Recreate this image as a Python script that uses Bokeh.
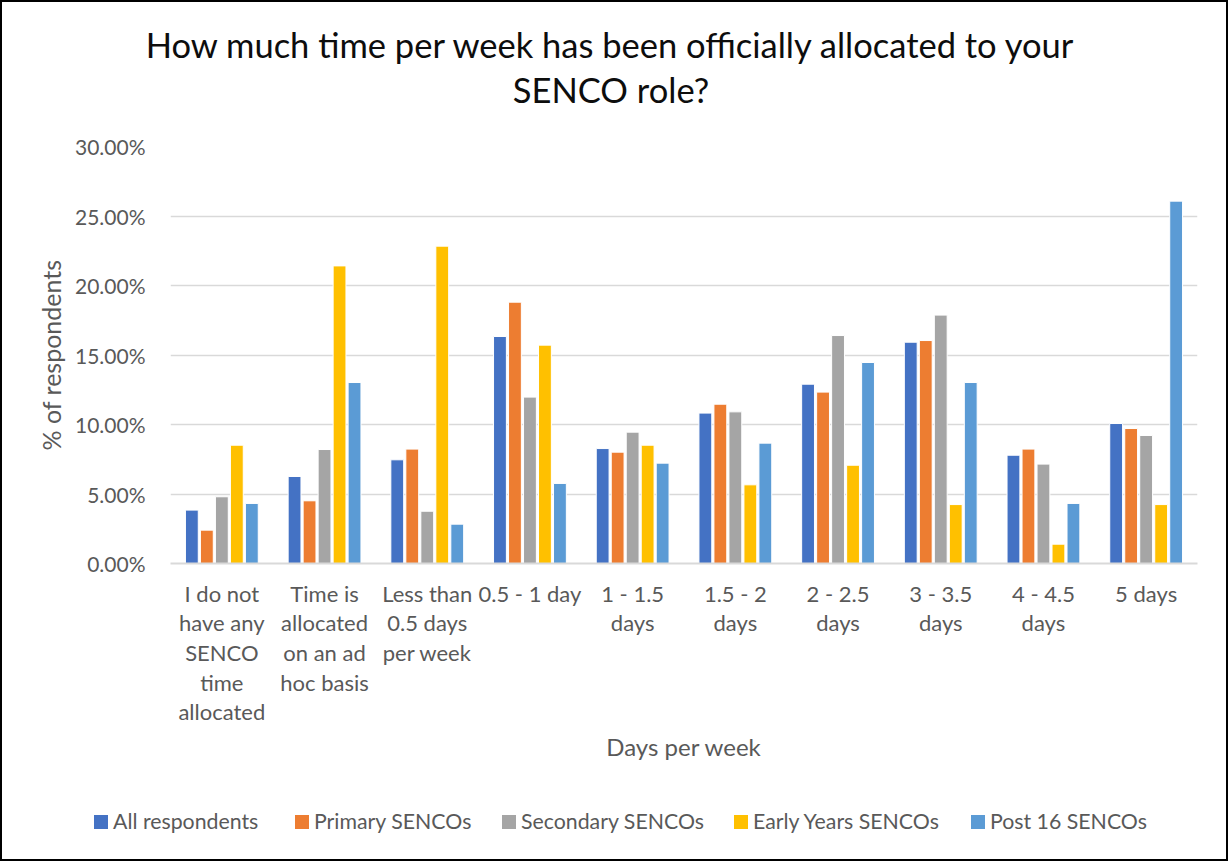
from bokeh.plotting import figure
from bokeh.layouts import column
from bokeh.models import (ColumnDataSource, FactorRange, Range1d, FixedTicker,
                          PrintfTickFormatter, Div)
from bokeh.transform import dodge
from bokeh.embed import file_html
from bokeh.resources import INLINE

# Survey categories (x axis) and the share of respondents per group, in percent
categories = [
    "I do not\nhave any\nSENCO\ntime\nallocated",
    "Time is\nallocated\non an ad\nhoc basis",
    "Less than\n0.5 days\nper week",
    "0.5 - 1 day",
    "1 - 1.5\ndays",
    "1.5 - 2\ndays",
    "2 - 2.5\ndays",
    "3 - 3.5\ndays",
    "4 - 4.5\ndays",
    "5 days",
]
series_names = ["All respondents", "Primary SENCOs", "Secondary SENCOs",
                "Early Years SENCOs", "Post 16 SENCOs"]
all_respondents = [3.84, 6.26, 7.46, 16.33, 8.27, 10.82, 12.90, 15.92, 7.79, 10.07]
primary = [2.40, 4.51, 8.23, 18.80, 8.01, 11.46, 12.33, 16.04, 8.23, 9.71]
secondary = [4.80, 8.20, 3.76, 11.97, 9.45, 10.91, 16.40, 17.87, 7.15, 9.21]
early_years = [8.51, 21.41, 22.83, 15.71, 8.51, 5.66, 7.07, 4.24, 1.39, 4.24]
post_16 = [4.32, 13.02, 2.83, 5.76, 7.22, 8.66, 14.46, 13.02, 4.32, 26.07]
y_ticks = [0, 5, 10, 15, 20, 25, 30]
title_lines = ["How much time per week has been officially allocated to your", "SENCO role?"]

colors = ["#4472C4", "#ED7D31", "#A5A5A5", "#FFC000", "#5B9BD5"]
keys = ["all", "primary", "secondary", "early", "post16"]

source = ColumnDataSource(dict(
    category=categories,
    all=all_respondents,
    primary=primary,
    secondary=secondary,
    early=early_years,
    post16=post_16,
))

FONT = "Lato"
GREY_TEXT = "#595959"
W = 1224                       # inner width; the 2px CSS border makes up the page
HEAD_H, MAIN_H, LEG_H = 120, 675, 62

# ---- header: two centred title lines ----
title_html = "".join(
    f'<div style="position:absolute;left:0;top:{top}px;width:{w}px;text-align:center;'
    f'font-family:{FONT};font-size:34.5px;line-height:42px;color:#0d0d0d;'
    f'white-space:nowrap;">{line}</div>'
    for line, top, w in zip(title_lines, [21.6, 66.6], [1215, 1218])
)
header = Div(
    text=f'<div style="position:relative;width:{W}px;height:{HEAD_H}px;">{title_html}</div>',
    width=W, height=HEAD_H, margin=0,
)

# ---- main chart ----
p = figure(
    width=W, height=MAIN_H,
    x_range=FactorRange(*categories),
    y_range=Range1d(0, 30),
    output_backend="svg",
    toolbar_location=None,
    min_border_left=168, min_border_right=29,
    min_border_top=24, min_border_bottom=234,
    background_fill_color="white",
    border_fill_color="white",
    margin=0,
)
p.outline_line_color = None

step = 0.146
offsets = [-2 * step, -step, 0, step, 2 * step]
for key, off, col in zip(keys, offsets, colors):
    p.vbar(x=dodge("category", off, range=p.x_range), top=key, width=0.125,
           source=source, fill_color=col, line_color="white", line_width=1)

p.yaxis.ticker = FixedTicker(ticks=y_ticks)
p.yaxis.formatter = PrintfTickFormatter(format="%.2f%%")
p.yaxis.axis_line_color = None
p.yaxis.major_tick_line_color = None
p.yaxis.minor_tick_line_color = None
p.yaxis.major_label_text_font = FONT
p.yaxis.major_label_text_font_size = "21px"
p.yaxis.major_label_text_color = GREY_TEXT
p.yaxis.major_label_standoff = 19
p.yaxis.axis_label = "% of respondents"
p.yaxis.axis_label_text_font = FONT
p.yaxis.axis_label_text_font_size = "25px"
p.yaxis.axis_label_text_font_style = "normal"
p.yaxis.axis_label_text_color = GREY_TEXT
p.yaxis.axis_label_standoff = 6

p.xaxis.axis_line_color = "#d9d9d9"
p.xaxis.axis_line_width = 2
p.xaxis.major_tick_line_color = None
p.xaxis.minor_tick_line_color = None
p.xaxis.major_label_text_font = FONT
p.xaxis.major_label_text_font_size = "22px"
p.xaxis.major_label_text_color = GREY_TEXT
p.xaxis.major_label_text_line_height = 1.1
p.xaxis.major_label_standoff = 10
p.xaxis.major_label_orientation = "horizontal"
p.xaxis.axis_label = "Days per week"
p.xaxis.axis_label_text_font = FONT
p.xaxis.axis_label_text_font_size = "24px"
p.xaxis.axis_label_text_font_style = "normal"
p.xaxis.axis_label_text_color = GREY_TEXT
p.xaxis.axis_label_standoff = 4

p.xgrid.grid_line_color = None
p.ygrid.grid_line_color = "#d9d9d9"
p.ygrid.grid_line_width = 1.5

# ---- legend row: colour swatch + series name for each group ----
swatch_x = [92, 293, 500, 732, 969]
legend_html = "".join(
    f'<div style="position:absolute;left:{x}px;top:18px;width:14px;height:14px;'
    f'background:{col};"></div>'
    f'<div style="position:absolute;left:{x + 19}px;top:9.5px;font-family:{FONT};'
    f'font-size:21.3px;line-height:28px;color:{GREY_TEXT};white-space:nowrap;">{name}</div>'
    for name, col, x in zip(series_names, colors, swatch_x)
)
legend_row = Div(
    text=f'<div style="position:relative;width:{W}px;height:{LEG_H}px;">{legend_html}</div>',
    width=W, height=LEG_H, margin=0,
)

layout = column(header, p, legend_row, spacing=0)
layout.styles = {"border": "2px solid black", "background": "white"}

open("out.html", "w").write(file_html(layout, INLINE))
